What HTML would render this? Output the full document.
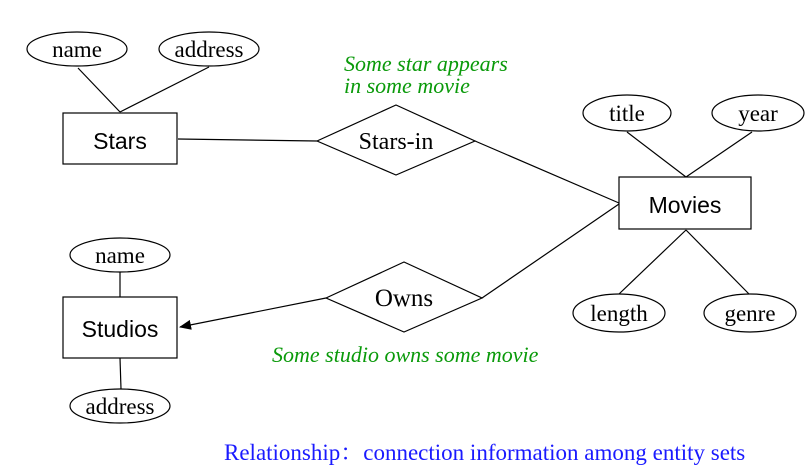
<!DOCTYPE html>
<html><head><meta charset="utf-8"><style>
html,body{margin:0;padding:0;background:#fff;}
svg{display:block;}
.s{font-family:"Liberation Serif",serif;font-size:23px;fill:#000;}
.d{font-family:"Liberation Serif",serif;font-size:24px;fill:#000;}
.a{font-family:"Liberation Sans",sans-serif;font-size:23px;fill:#000;}
.g{font-family:"Liberation Serif",serif;font-style:italic;font-size:22px;fill:#0a9a0a;}
</style></head><body>
<svg width="810" height="476" viewBox="0 0 810 476" xmlns="http://www.w3.org/2000/svg">
<defs><marker id="ar" markerWidth="12" markerHeight="10" refX="11" refY="5" orient="auto" markerUnits="userSpaceOnUse"><path d="M0,0 L12,5 L0,10 z" fill="#000"/></marker></defs>
<g fill="#fff" stroke="#000" stroke-width="1.2">
<ellipse cx="77" cy="49" rx="50" ry="17"/>
<ellipse cx="209" cy="49" rx="50" ry="17"/>
<rect x="63" y="113" width="114" height="51"/>
<polygon points="317,141 396,105 475,141 396,175"/>
<rect x="619" y="177" width="132" height="52"/>
<ellipse cx="627" cy="113" rx="44" ry="18"/>
<ellipse cx="758" cy="113" rx="46" ry="18"/>
<ellipse cx="619" cy="313" rx="46" ry="19"/>
<ellipse cx="750" cy="313" rx="46" ry="19"/>
<polygon points="326,298 404,262 482,298 404,332"/>
<rect x="63" y="297" width="114" height="61"/>
<ellipse cx="120" cy="255" rx="50" ry="17"/>
<ellipse cx="120" cy="406" rx="50" ry="17"/>
</g>
<g stroke="#000" stroke-width="1.2" fill="none">
<line x1="78" y1="68" x2="120" y2="112"/>
<line x1="209" y1="67" x2="120" y2="112"/>
<line x1="178" y1="139" x2="317" y2="141"/>
<line x1="475" y1="141" x2="619" y2="203"/>
<line x1="627" y1="132" x2="686" y2="177"/>
<line x1="752" y1="132" x2="686" y2="177"/>
<line x1="686" y1="230" x2="619" y2="294"/>
<line x1="686" y1="230" x2="749" y2="294"/>
<line x1="482" y1="298" x2="619" y2="204"/>
<line x1="326" y1="298" x2="180" y2="327" marker-end="url(#ar)"/>
<line x1="120" y1="272" x2="120" y2="297"/>
<line x1="120" y1="358" x2="121" y2="389"/>
</g>
<text class="s" x="77" y="57" text-anchor="middle">name</text>
<text class="s" x="209" y="57" text-anchor="middle">address</text>
<text class="a" x="120" y="149" text-anchor="middle">Stars</text>
<text class="d" x="396" y="149" text-anchor="middle">Stars-in</text>
<text class="a" x="685" y="213" text-anchor="middle">Movies</text>
<text class="s" x="627" y="121" text-anchor="middle">title</text>
<text class="s" x="758" y="121" text-anchor="middle">year</text>
<text class="s" x="619" y="321" text-anchor="middle">length</text>
<text class="s" x="750" y="321" text-anchor="middle">genre</text>
<text class="d" x="404" y="306" text-anchor="middle" style="font-size:25px">Owns</text>
<text class="a" x="120" y="337" text-anchor="middle">Studios</text>
<text class="s" x="120" y="263" text-anchor="middle">name</text>
<text class="s" x="120" y="414" text-anchor="middle">address</text>
<text class="g" x="344" y="71">Some star appears</text>
<text class="g" x="344" y="93">in some movie</text>
<text class="g" x="272" y="362">Some studio owns some movie</text>
<text x="224" y="460" style="font-family:'Liberation Serif','Noto Serif CJK SC',serif;font-size:23px;fill:#1a1aff;">Relationship：connection information among entity sets</text>
</svg>
</body></html>
